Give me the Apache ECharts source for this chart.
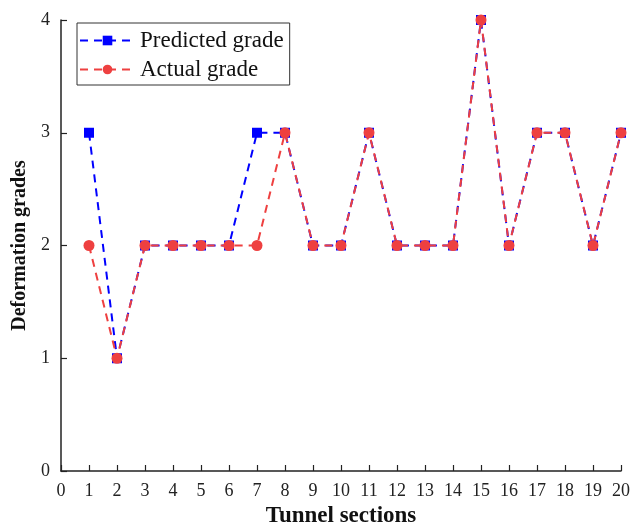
<!DOCTYPE html>
<html><head><meta charset="utf-8">
<script src="https://cdn.jsdelivr.net/npm/echarts@6/dist/echarts.min.js"></script>
<style>html,body{margin:0;padding:0;background:#fff}#c{width:633px;height:524px}</style>
</head><body><div id="c"></div>
<script>
const sections = [1,2,3,4,5,6,7,8,9,10,11,12,13,14,15,16,17,18,19,20];
const predicted = [3,1,2,2,2,2,3,3,2,2,3,2,2,2,4,2,3,3,2,3];
const actual    = [2,1,2,2,2,2,2,3,2,2,3,2,2,2,4,2,3,3,2,3];
const seriesNames = ['Predicted grade','Actual grade'];
const FONT = 'Liberation Serif';
const chart = echarts.init(document.getElementById('c'));
const axisCommon = {
  axisLine:{show:true,onZero:false,lineStyle:{color:'#222',width:1.5}},
  axisTick:{show:true,inside:true,length:6,lineStyle:{color:'#222',width:1.2}},
  axisLabel:{fontFamily:FONT,fontSize:18,color:'#222',margin:11},
  splitLine:{show:false},
  nameLocation:'middle'
};
chart.setOption({
  animation:false,
  backgroundColor:'#fff',
  grid:{left:61,right:12,top:20,bottom:53,containLabel:false,outerBoundsMode:'none'},
  legend:{
    left:77, top:23, orient:'vertical',
    borderColor:'#333', borderWidth:1, padding:[6,6,4,2],
    itemWidth:55, itemHeight:12, itemGap:6,
    textStyle:{fontFamily:FONT,fontSize:23,color:'#111'},
    data:seriesNames
  },
  xAxis:Object.assign({}, axisCommon, {type:'value',min:0,max:20,interval:1,name:'Tunnel sections',nameGap:27,
    nameTextStyle:{fontFamily:FONT,fontSize:23,fontWeight:'bold',color:'#111'}}),
  yAxis:Object.assign({}, axisCommon, {type:'value',min:0,max:4,interval:1,name:'Deformation grades',nameGap:28,
    nameTextStyle:{fontFamily:FONT,fontSize:20,fontWeight:'bold',color:'#111'}}),
  series:[
    {name:seriesNames[0],type:'line',data:sections.map((s,i)=>[s,predicted[i]]),
     symbol:'rect',symbolSize:10,clip:false,
     itemStyle:{color:'#0000ff'},lineStyle:{color:'#0000ff',width:2,type:[8,6]}},
    {name:seriesNames[1],type:'line',data:sections.map((s,i)=>[s,actual[i]]),
     symbol:'circle',symbolSize:11,clip:false,
     itemStyle:{color:'#ee4040'},lineStyle:{color:'#ee4040',width:2,type:[8,6]}}
  ]
});
</script></body></html>
